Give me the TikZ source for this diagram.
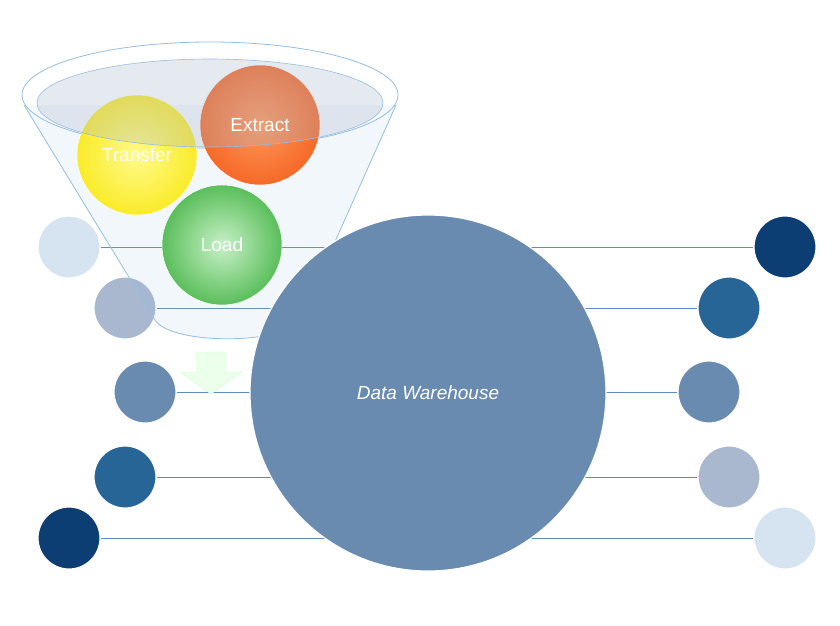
\documentclass[tikz,border=0pt]{standalone}
\usepackage{fontspec}
\setmainfont{Liberation Sans}
\begin{document}
\begin{tikzpicture}[x=1pt,y=-1pt,
  dot/.style={circle,minimum size=62pt,inner sep=0pt,draw=white,line width=1.2pt},
  ball/.style={circle,minimum size=120pt,inner sep=0pt,draw=white,line width=0.5pt},
  lbl/.style={text=white,font=\fontsize{19}{19}\selectfont},
  link/.style={draw={rgb,255:red,95;green,140;blue,190},line width=0.8pt}]
\definecolor{c1}{RGB}{214,227,241}
\definecolor{c2}{RGB}{169,184,207}
\definecolor{c3}{RGB}{106,139,176}
\definecolor{c4}{RGB}{40,101,151}
\definecolor{c5}{RGB}{12,61,115}
\definecolor{fun}{RGB}{150,190,225}
\useasboundingbox (0,0) rectangle (840,625);
\fill[white] (0,0) rectangle (840,625);
\node[dot,fill=c1] (l1) at (69,247) {};
\node[dot,fill=c2] (l2) at (125,308) {};
\node[dot,fill=c3] (l3) at (145,392) {};
\node[dot,fill=c4] (l4) at (125,477) {};
\node[dot,fill=c5] (l5) at (69,538) {};
\node[dot,fill=c5] (r1) at (785,247) {};
\node[dot,fill=c4] (r2) at (729,308) {};
\node[dot,fill=c3] (r3) at (709,392) {};
\node[dot,fill=c2] (r4) at (729,477) {};
\node[dot,fill=c1] (r5) at (785,538) {};
\foreach \i in {1,...,5} \draw[link] (l\i) -- (r\i);
% funnel
\draw[fun,line width=0.8pt,fill=fun,fill opacity=0.12] (24,105) -- (155,320) .. controls (170,345) and (285,345) .. (300,320) -- (396,105);
\draw[fun,line width=0.8pt,fill=white,fill opacity=0.2] (210,95) ellipse [x radius=188,y radius=53];
\node[ball,inner color={rgb,255:red,255;green,150;blue,90},outer color={rgb,255:red,245;green,105;blue,40}] (e) at (260,125) {};
\node[ball,inner color={rgb,255:red,255;green,250;blue,140},outer color={rgb,255:red,250;green,235;blue,40}] (t) at (137,155) {};
\node[ball,inner color={rgb,255:red,200;green,240;blue,200},outer color={rgb,255:red,90;green,190;blue,90}] (ld) at (222,245) {};
\fill[c2,opacity=0.3] (210,103) ellipse [x radius=173,y radius=44];
\draw[fun,line width=0.6pt] (210,103) ellipse [x radius=173,y radius=44];
\node[lbl] at (e) {Extract};
\node[lbl] at (t) {Transfer};
\node[lbl] at (ld) {Load};
\fill[green!8!white,draw=green!20!white] (196,352) -- (226,352) -- (226,372) -- (242,372) -- (211,394) -- (180,372) -- (196,372) -- cycle;
\node[circle,minimum size=356pt,inner sep=0pt,fill=c3,draw=white,line width=1.2pt,text=white,font=\itshape\fontsize{19}{19}\selectfont] (dw) at (428,393) {Data Warehouse};
\end{tikzpicture}
\end{document}
